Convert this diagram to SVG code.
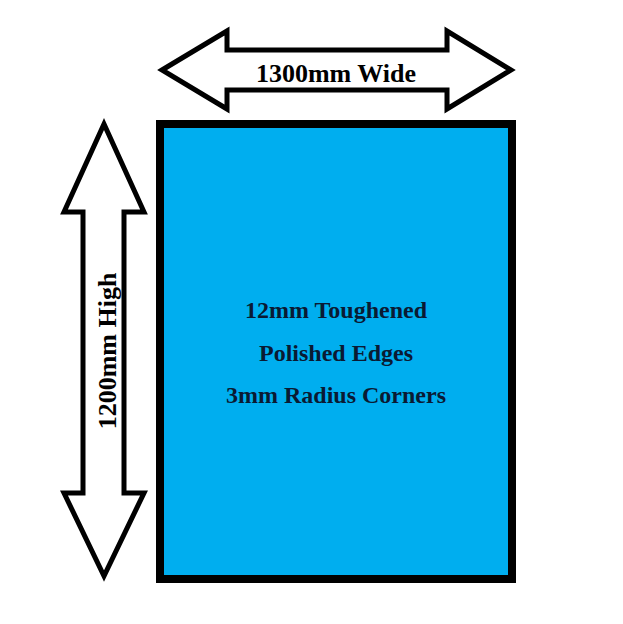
<svg xmlns="http://www.w3.org/2000/svg" width="623" height="624" viewBox="0 0 623 624">
<style>
.arrow{fill:#fff;stroke:#000;stroke-width:5;stroke-linejoin:miter}
.lbl{font-family:"Liberation Serif","Times New Roman",serif;font-weight:bold;fill:#000;text-anchor:middle}
.inner{font-family:"Liberation Serif","Times New Roman",serif;font-weight:bold;fill:#0a1a33;text-anchor:middle;font-size:24px}
</style>
<rect width="623" height="624" fill="#fff"/>
<g id="panel">
<rect x="160" y="124" width="352" height="455" fill="#00aeef" stroke="#000" stroke-width="8"/>
<text class="inner" x="336" y="318">12mm Toughened</text>
<text class="inner" x="336" y="361">Polished Edges</text>
<text class="inner" x="336" y="403">3mm Radius Corners</text>
</g>
<g id="width-arrow">
<polygon class="arrow" points="162,70 227,31 227,50 447,50 447,31 511,70 447,109 447,90 227,90 227,109"/>
<text class="lbl" x="336" y="82" font-size="26">1300mm Wide</text>
</g>
<g id="height-arrow">
<polygon class="arrow" points="104,124 144,212 124,212 124,493 144,493 104,576 64,493 83,493 83,212 64,212"/>
<text class="lbl" transform="translate(116,351) rotate(-90)" x="0" y="0" font-size="26">1200mm High</text>
</g>
</svg>
